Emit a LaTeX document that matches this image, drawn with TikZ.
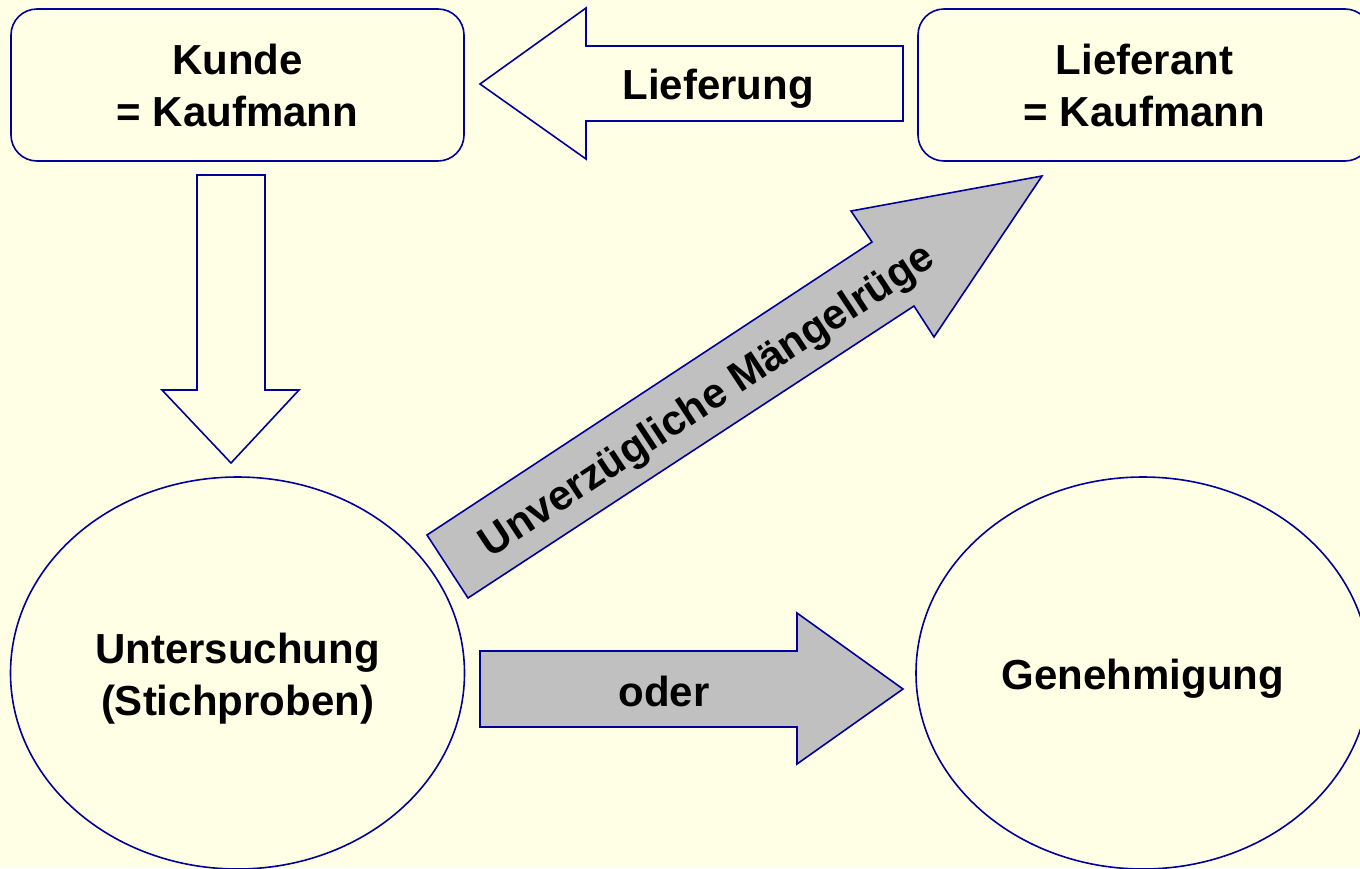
\documentclass[tikz,border=0pt]{standalone}
\usepackage{fontspec}
\setmainfont{Liberation Sans}
\usetikzlibrary{shapes.geometric,positioning}
\definecolor{paleyellow}{RGB}{255,255,229}
\definecolor{darkblue}{RGB}{0,0,153}
\definecolor{arrowgrey}{RGB}{192,192,192}

\begin{document}
\begin{tikzpicture}[x=0.5pt,y=-0.5pt]
\tikzstyle{party}=[rectangle, rounded corners=13pt, draw=darkblue, line width=0.8pt, fill=paleyellow, minimum width=226.5pt, minimum height=76pt, align=center, font=\bfseries\fontsize{21}{26}\selectfont]
\tikzstyle{stage}=[ellipse, draw=darkblue, line width=0.8pt, fill=paleyellow, minimum width=227pt, minimum height=196pt, inner sep=0pt]
\tikzstyle{stagetext}=[align=center, yshift=-3pt, font=\bfseries\fontsize{21}{26}\selectfont]
\tikzstyle{hollow}=[draw=darkblue, line width=0.8pt, fill=paleyellow]
\tikzstyle{greyarrow}=[draw=darkblue, line width=0.8pt, fill=arrowgrey]
\tikzstyle{arrowtext}=[inner sep=0pt, font=\bfseries\fontsize{21}{26}\selectfont]

\fill[paleyellow] (0,0) rectangle (1360,868);
\useasboundingbox (0,0) rectangle (1360,868);
\clip (0,0) rectangle (1360,868);

\node[party] (kunde) at (237.5,85) {Kunde\\= Kaufmann};
\node[party] (lieferant) at (1144.5,85) {Lieferant\\= Kaufmann};
\node[stage] (untersuchung) at (237.5,673) [label={[stagetext]center:{Untersuchung\\(Stichproben)}}] {};
\node[stage] (genehmigung) at (1143,673) [label={[stagetext]center:Genehmigung}] {};

% block arrows
\draw[hollow] (903,46) -- (586,46) -- (586,8) -- (480,84) -- (586,159) -- (586,121) -- (903,121) -- cycle;
\draw[hollow] (197,175) -- (265,175) -- (265,390) -- (299,390) -- (231,463) -- (162,390) -- (197,390) -- cycle;
\draw[greyarrow] (427,535) -- (872,242) -- (851,211) -- (1042,176) -- (934,337) -- (914,306) -- (468,598) -- cycle;
\draw[greyarrow] (480,651) -- (797,651) -- (797,613) -- (903,689) -- (797,764) -- (797,727) -- (480,727) -- cycle;

\node[arrowtext] (lieferung) at (718,89) {Lieferung};
\node[arrowtext, rotate=33.4] (maengelruege) at (708,402) {Unverzügliche Mängelrüge};
\node[arrowtext] (oder) at (664,691) {oder};

\end{tikzpicture}
\end{document}
